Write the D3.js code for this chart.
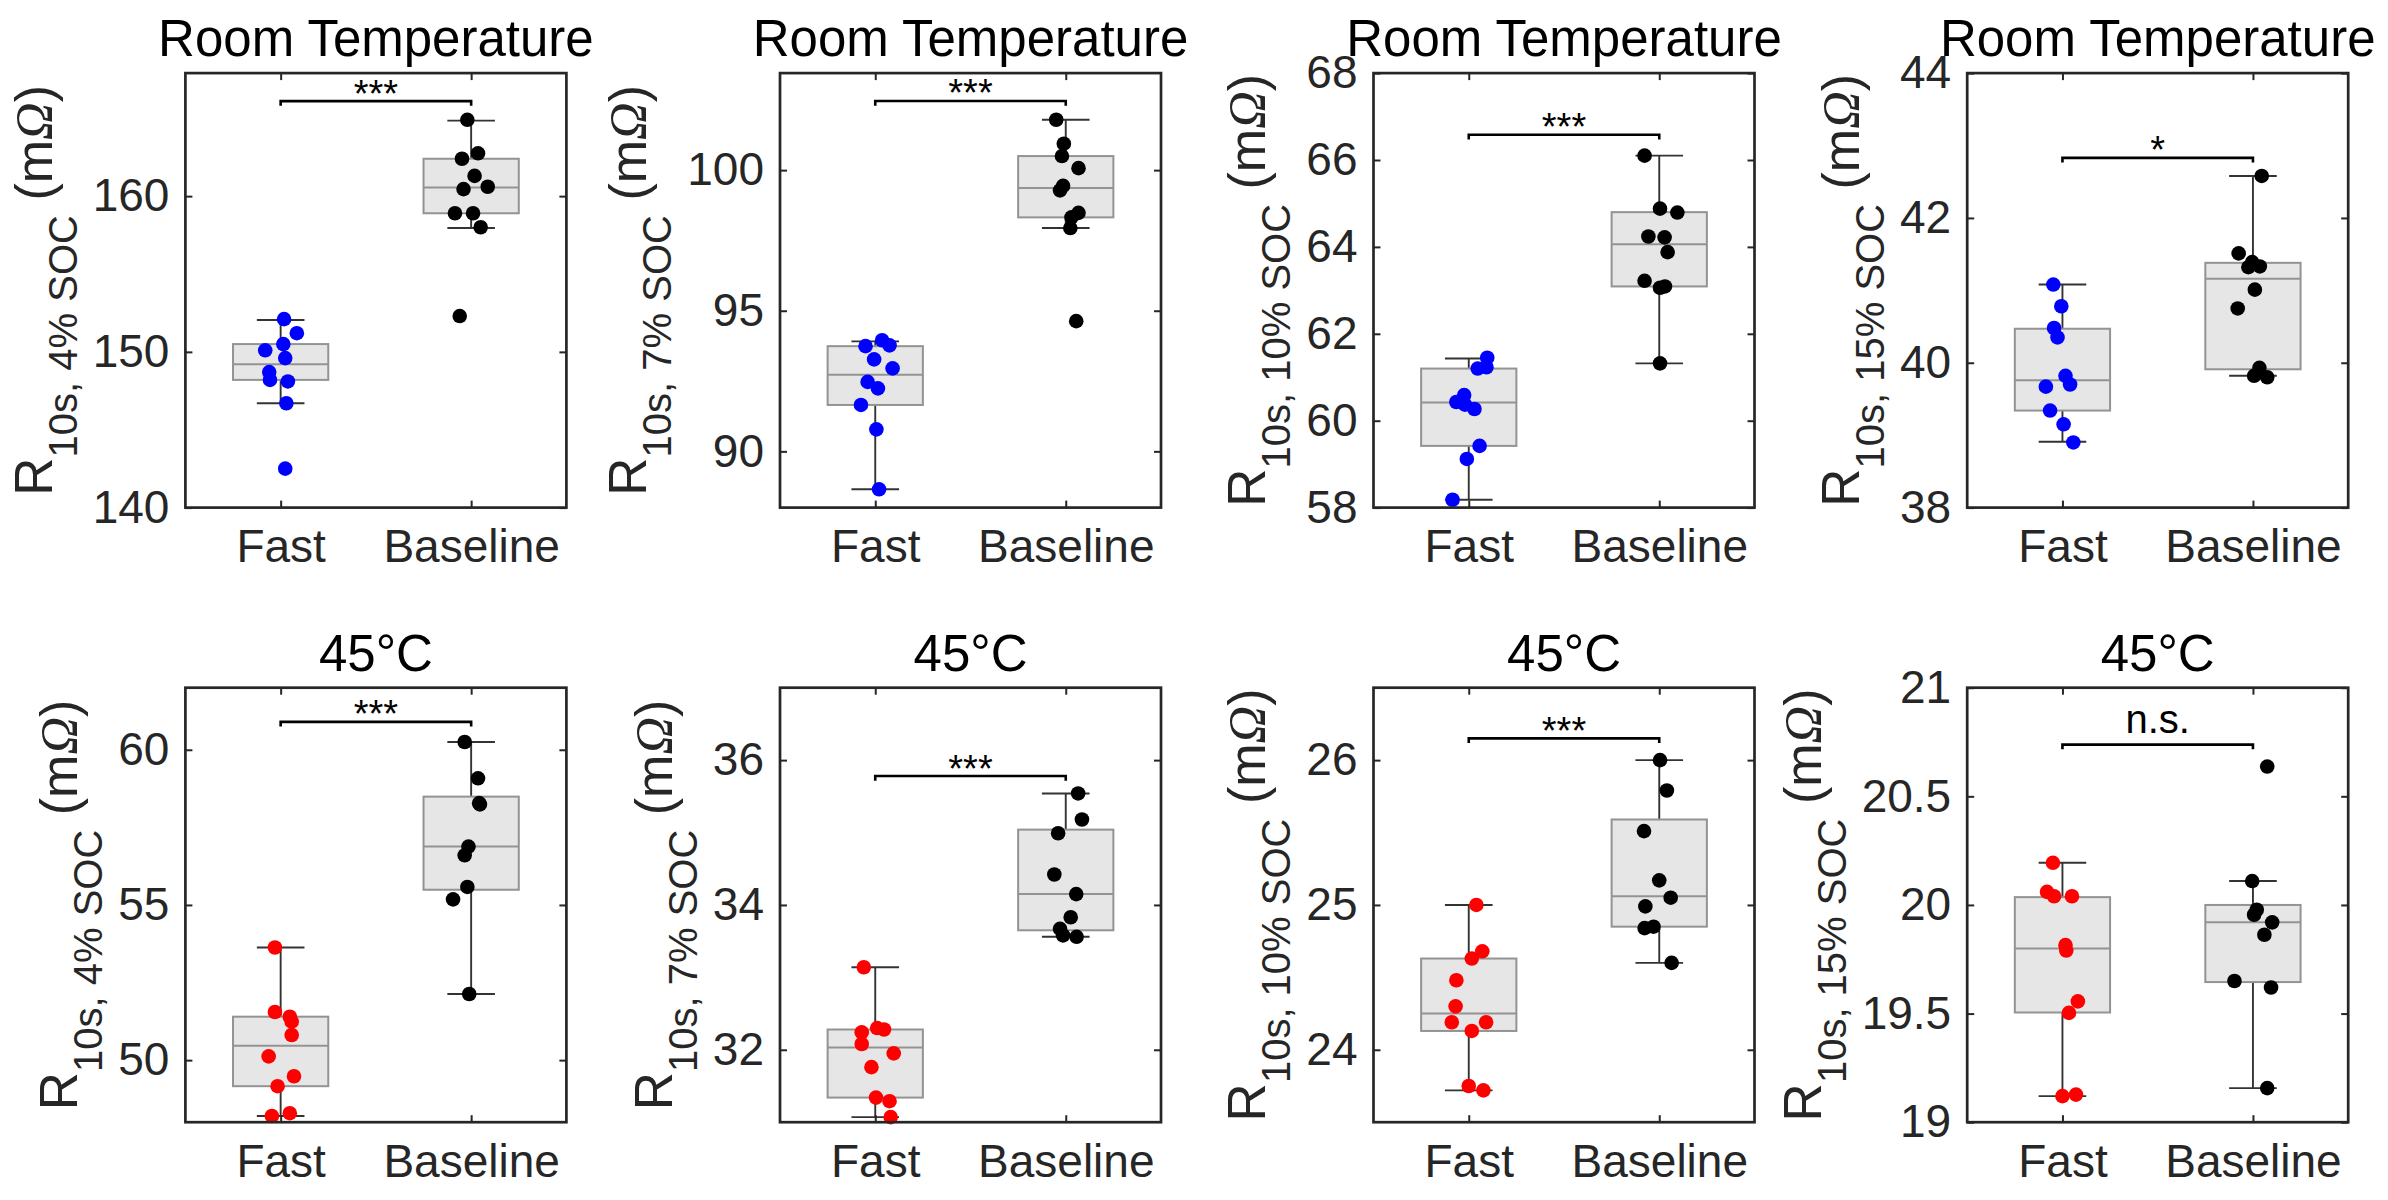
<!DOCTYPE html>
<html>
<head>
<meta charset="utf-8">
<script src="https://cdn.jsdelivr.net/npm/d3@7"></script>
<style>
  html, body { margin: 0; padding: 0; background: #fff; }
  svg { display: block; }
  text { font-family: "Liberation Sans", Arial, Helvetica, sans-serif; }
</style>
</head>
<body>
<svg id="chart" width="2388" height="1200"></svg>
<script>
// ---------------- DATA ----------------
const categories = ["Fast", "Baseline"];
const titles = ["Room Temperature", "Room Temperature", "Room Temperature", "Room Temperature",
                "45°C", "45°C", "45°C", "45°C"];
const socLabels = ["4% SOC", "7% SOC", "10% SOC", "15% SOC", "4% SOC", "7% SOC", "10% SOC", "15% SOC"];
const yDomains = [[140, 167.9], [88, 103.45], [58, 68], [38, 44],
                  [48, 62], [31, 37], [23.5, 26.5], [19, 21]];
const yTicks = [[140, 150, 160], [90, 95, 100], [58, 60, 62, 64, 66, 68], [38, 40, 42, 44],
                [50, 55, 60], [32, 34, 36], [24, 25, 26], [19, 19.5, 20, 20.5, 21]];

const fastValues = [
  [152.1, 151.2, 150.5, 150.1, 149.6, 148.7, 148.2, 148.1, 146.7, 142.5],
  [93.95, 93.74, 93.77, 93.27, 92.95, 92.47, 92.24, 91.65, 90.78, 88.65],
  [61.45, 61.2, 61.23, 60.59, 60.43, 60.37, 60.27, 59.42, 59.12, 58.18],
  [41.08, 40.78, 40.48, 40.35, 39.82, 39.7, 39.67, 39.34, 39.15, 38.9],
  [53.63, 51.55, 51.4, 51.24, 50.81, 50.12, 49.48, 49.16, 48.2, 48.29],
  [33.14, 32.3, 32.28, 32.24, 32.08, 31.95, 31.76, 31.34, 31.29, 31.07],
  [25.0, 24.68, 24.63, 24.48, 24.3, 24.19, 24.19, 24.13, 23.75, 23.72],
  [20.194, 20.06, 20.04, 20.04, 19.815, 19.79, 19.556, 19.503, 19.12, 19.127]
];
const fastJitter = [
  [0.018, 0.085, 0.014, -0.081, 0.024, -0.06, -0.056, 0.038, 0.03, 0.024],
  [0.036, -0.051, 0.075, -0.006, 0.091, -0.04, 0.014, -0.075, 0.006, 0.02],
  [0.097, 0.047, 0.093, -0.024, -0.065, -0.02, 0.03, 0.057, -0.01, -0.085],
  [-0.048, -0.006, -0.044, -0.026, 0.016, 0.04, -0.087, -0.065, 0.006, 0.057],
  [-0.03, -0.03, 0.048, 0.058, 0.058, -0.063, 0.07, -0.016, -0.046, 0.048],
  [-0.06, 0.01, 0.046, -0.071, -0.071, 0.097, -0.02, 0.004, 0.075, 0.081],
  [0.04, 0.071, 0.016, -0.065, -0.069, -0.089, 0.091, 0.016, 0.0, 0.077],
  [-0.05, -0.081, -0.044, 0.05, 0.016, 0.02, 0.081, 0.034, 0.0, 0.071]
];
const baseValues = [
  [164.9, 162.75, 162.4, 161.3, 160.6, 160.45, 158.9, 158.9, 158.0, 152.3],
  [101.79, 100.94, 100.5, 100.07, 99.44, 99.28, 98.48, 98.32, 97.94, 94.63],
  [66.1, 64.88, 64.79, 64.24, 64.22, 63.88, 63.22, 63.06, 63.09, 61.32],
  [42.58, 41.51, 41.39, 41.32, 41.33, 41.01, 40.75, 39.93, 39.82, 39.8],
  [60.25, 59.08, 58.28, 58.24, 56.88, 56.6, 55.58, 55.18, 52.13],
  [35.54, 35.18, 34.99, 34.42, 34.15, 33.83, 33.67, 33.58, 33.56],
  [26.0, 25.79, 25.51, 25.17, 25.05, 24.99, 24.84, 24.85, 24.6],
  [20.637, 20.11, 19.978, 19.955, 19.92, 19.863, 19.65, 19.62, 19.157]
];
const baseJitter = [
  [-0.02, 0.036, -0.048, 0.018, 0.087, -0.04, -0.085, 0.01, 0.05, -0.06],
  [-0.05, -0.01, -0.02, 0.067, -0.014, -0.03, 0.067, 0.03, 0.024, 0.055],
  [-0.077, 0.004, 0.095, -0.057, 0.028, 0.044, -0.077, 0.004, 0.03, 0.004],
  [0.046, -0.075, -0.004, -0.024, 0.036, 0.01, -0.08, 0.034, 0.006, 0.075],
  [-0.034, 0.036, 0.042, 0.046, -0.014, -0.034, -0.02, -0.095, -0.01],
  [0.065, 0.085, -0.04, -0.06, 0.055, 0.026, -0.03, -0.014, 0.057],
  [0.004, 0.04, -0.08, 0.0, 0.06, -0.073, -0.077, -0.03, 0.065],
  [0.075, -0.004, 0.02, 0.006, 0.101, 0.06, -0.097, 0.095, 0.075]
];
// box stats: [q1, median, q3, whiskerLow, whiskerHigh]
const fastBox = [
  [148.2, 149.2, 150.5, 146.7, 152.05],
  [91.65, 92.72, 93.74, 88.65, 93.91],
  [59.42, 60.42, 61.2, 58.18, 61.43],
  [39.34, 39.76, 40.47, 38.91, 41.08],
  [49.16, 50.46, 51.4, 48.2, 53.63],
  [31.34, 32.03, 32.28, 31.07, 33.14],
  [24.13, 24.25, 24.63, 23.72, 25.0],
  [19.505, 19.8, 20.036, 19.12, 20.194]
];
const baseBox = [
  [158.9, 160.55, 162.4, 157.95, 164.85],
  [98.32, 99.36, 100.5, 97.94, 101.79],
  [63.09, 64.06, 64.8, 61.32, 66.1],
  [39.91, 41.16, 41.38, 39.82, 42.58],
  [55.49, 56.88, 58.49, 52.13, 60.25],
  [33.65, 34.15, 35.04, 33.56, 35.54],
  [24.85, 25.06, 25.59, 24.6, 26.0],
  [19.645, 19.92, 20.0, 19.157, 20.11]
];
const sigLabels = ["***", "***", "***", "*", "***", "***", "***", "n.s."];
const sigY = [166.1, 102.46, 66.58, 42.83, 60.9, 35.78, 26.15, 20.738];
const fastColors = ["#0000ff", "#0000ff", "#0000ff", "#0000ff", "#ff0000", "#ff0000", "#ff0000", "#ff0000"];
const baseColor = "#000000";

// ---------------- LAYOUT ----------------
const colLeft = [185.4, 780, 1373.5, 1967.2];
const rowTop = [73.1, 687.7];
const W = 381, H = 434.5;
const axisColor = "#262626";

const svg = d3.select("#chart");

for (let p = 0; p < 8; p++) {
  const left = colLeft[p % 4], top = rowTop[Math.floor(p / 4)];
  const g = svg.append("g").attr("transform", `translate(${left},${top})`);
  const x = d3.scaleLinear().domain([0.5, 2.5]).range([0, W]);
  const y = d3.scaleLinear().domain(yDomains[p]).range([H, 0]);

  const groups = [
    { pos: 1, vals: fastValues[p], jit: fastJitter[p], box: fastBox[p], color: fastColors[p] },
    { pos: 2, vals: baseValues[p], jit: baseJitter[p], box: baseBox[p], color: baseColor }
  ];

  // boxes
  groups.forEach(gr => {
    const [q1, med, q3, wlo, whi] = gr.box;
    const bw = 0.5, cw = 0.25;
    const wl = (x1, x2, y1, y2) => g.append("line")
      .attr("x1", x1).attr("x2", x2).attr("y1", y1).attr("y2", y2)
      .attr("stroke", "#333333").attr("stroke-width", 1.9);
    wl(x(gr.pos), x(gr.pos), y(q3), y(whi));
    wl(x(gr.pos), x(gr.pos), y(q1), y(wlo));
    wl(x(gr.pos - cw / 2), x(gr.pos + cw / 2), y(whi), y(whi));
    wl(x(gr.pos - cw / 2), x(gr.pos + cw / 2), y(wlo), y(wlo));
    g.append("rect")
      .attr("x", x(gr.pos - bw / 2)).attr("width", x(gr.pos + bw / 2) - x(gr.pos - bw / 2))
      .attr("y", y(q3)).attr("height", y(q1) - y(q3))
      .attr("fill", "#e6e6e6").attr("stroke", "#939393").attr("stroke-width", 2);
    g.append("line").attr("x1", x(gr.pos - bw / 2)).attr("x2", x(gr.pos + bw / 2))
      .attr("y1", y(med)).attr("y2", y(med))
      .attr("stroke", "#939393").attr("stroke-width", 2);
  });

  // points
  groups.forEach(gr => {
    g.append("g").selectAll("circle").data(gr.vals).join("circle")
      .attr("cx", (d, i) => x(gr.pos + gr.jit[i]))
      .attr("cy", d => y(d))
      .attr("r", 7.3)
      .attr("fill", gr.color);
  });

  // axes (MATLAB style, inward ticks on all sides)
  const yl = g.append("g").attr("class", "yaxis")
    .call(d3.axisLeft(y).tickValues(yTicks[p]).tickSizeInner(-7).tickSizeOuter(0).tickPadding(16)
      .tickFormat(d3.format("~g")));
  g.append("g").attr("transform", `translate(${W},0)`)
    .call(d3.axisRight(y).tickValues(yTicks[p]).tickSizeInner(-7).tickSizeOuter(0).tickFormat(""));
  g.append("g").attr("transform", `translate(0,${H})`)
    .call(d3.axisBottom(x).tickValues([1, 2]).tickSizeInner(-7).tickSizeOuter(0).tickPadding(22)
      .tickFormat(d => categories[d - 1]));
  g.append("g")
    .call(d3.axisTop(x).tickValues([1, 2]).tickSizeInner(-7).tickSizeOuter(0).tickFormat(""));
  g.selectAll(".domain").remove();
  g.selectAll(".tick line").attr("stroke", axisColor).attr("stroke-width", 2);
  g.selectAll(".tick text").attr("fill", axisColor).attr("font-size", 46)
    .attr("font-family", '"Liberation Sans", Arial, sans-serif');

  g.append("rect").attr("x", 0).attr("y", 0).attr("width", W).attr("height", H)
    .attr("fill", "none").attr("stroke", axisColor).attr("stroke-width", 2.7);

  // significance bracket
  const by = y(sigY[p]);
  g.append("path")
    .attr("d", `M${x(1)},${by + 4.7}V${by}H${x(2)}V${by + 4.7}`)
    .attr("fill", "none").attr("stroke", "#000").attr("stroke-width", 2.6);
  const isStar = sigLabels[p].includes("*");
  g.append("text")
    .attr("x", x(1.5)).attr("y", isStar ? by + 5.5 : by - 12)
    .attr("text-anchor", "middle").attr("font-size", isStar ? 38 : 40).attr("fill", "#000")
    .text(sigLabels[p]);

  // title
  g.append("text").attr("x", W / 2).attr("y", -17)
    .attr("text-anchor", "middle").attr("font-size", 51).attr("fill", "#000")
    .text(titles[p]);

  // y label
  const tickLeft = yl.node().getBBox().x;
  const lab = g.append("text")
    .attr("transform", `translate(${tickLeft - 41},${H / 2}) rotate(-90)`)
    .attr("text-anchor", "middle").attr("fill", axisColor)
    .style("white-space", "pre");
  lab.append("tspan").attr("font-size", 53).text("R");
  lab.append("tspan").attr("font-size", 40).attr("dy", 25).text("10s, " + socLabels[p]);
  lab.append("tspan").attr("font-size", 52).attr("dy", -25).text(" (m");
  lab.append("tspan").attr("font-size", 52).attr("font-family", '"Liberation Serif", serif')
    .attr("font-style", "italic").text("Ω");
  lab.append("tspan").attr("font-size", 52).text(")");
}
</script>
</body>
</html>
